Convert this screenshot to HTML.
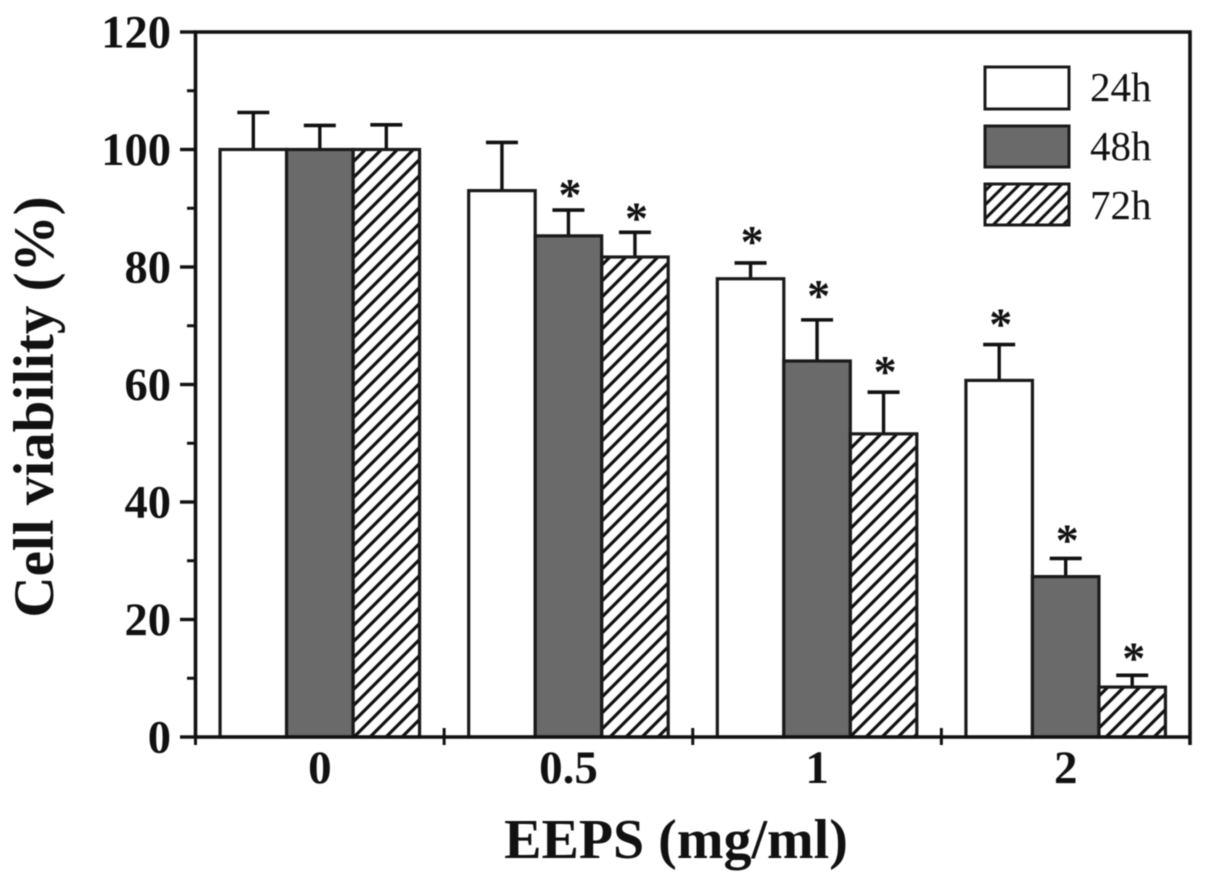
<!DOCTYPE html>
<html lang="en">
<head>
<meta charset="utf-8">
<title>Cell viability chart</title>
<style>
html,body{margin:0;padding:0;background:#fff;width:1205px;height:886px;overflow:hidden}
svg{display:block;filter:blur(0.6px)}
text{font-family:"Liberation Serif",serif;fill:#111}
</style>
</head>
<body>
<svg id="chart" xmlns="http://www.w3.org/2000/svg" width="1205" height="886" viewBox="0 0 1205 886">
<defs>
<pattern id="hatch" patternUnits="userSpaceOnUse" width="16" height="16" patternTransform="translate(3 0)">
<path d="M-3 3L3 -3M0 16L16 0M13 19L19 13" stroke="#111" stroke-width="3.2"/>
</pattern>
<pattern id="hatch-small" patternUnits="userSpaceOnUse" width="14" height="14">
<path d="M-3 3L3 -3M0 14L14 0M11 17L17 11" stroke="#111" stroke-width="3"/>
</pattern>
</defs>
<text transform="translate(53 407) rotate(-90)" text-anchor="middle" font-size="57" font-weight="bold">Cell viability (%)</text>
<text x="676" y="858" text-anchor="middle" font-size="56" font-weight="bold">EEPS (mg/ml)</text>
<g id="marks"></g>
<g id="axes"></g>
<g>
<rect x="985" y="67" width="84" height="42" fill="#fff" stroke="#1a1a1a" stroke-width="3"/>
<text x="1090" y="101" font-size="41">24h</text>
<rect x="985" y="126" width="84" height="41" fill="#6a6a6a" stroke="#1a1a1a" stroke-width="3"/>
<text x="1090" y="160" font-size="41">48h</text>
<rect x="985" y="184" width="84" height="41" fill="url(#hatch-small)" stroke="#1a1a1a" stroke-width="3"/>
<text x="1090" y="219" font-size="41">72h</text>
</g>
</svg>
<script>
const categories = ["0", "0.5", "1", "2"];
const seriesNames = ["24h", "48h", "72h"];
const values24h = [100, 93, 78, 60.7];
const values48h = [100, 85.3, 64, 27.3];
const values72h = [100, 81.7, 51.6, 8.5];
const errorTop24h = [106.3, 101.2, 80.7, 66.8];
const errorTop48h = [104.1, 89.7, 71, 30.4];
const errorTop72h = [104.2, 85.9, 58.7, 10.5];
const starGap24h = [null, null, 1.0, 0.85];
const starGap48h = [null, 0, 1.5, 0.5];
const starGap72h = [null, -0.2, 0.85, 0.35];
const yMajorTicks = [0, 20, 40, 60, 80, 100, 120];
const yMinorTicks = [10, 30, 50, 70, 90, 110];

const seriesValues = [values24h, values48h, values72h];
const seriesErrors = [errorTop24h, errorTop48h, errorTop72h];
const seriesStars = [starGap24h, starGap48h, starGap72h];
const seriesFills = ["#fff", "#6a6a6a", "url(#hatch)"];

const plotLeft = 195.5, plotRight = 1190, plotTop = 32, plotBottom = 737;
const yMax = 120;
const barWidth = 66.5;
function yScale(v) { return plotBottom - (v / yMax) * (plotBottom - plotTop); }
function bandWidth() { return (plotRight - plotLeft) / categories.length; }
function xCenter(c) { return plotLeft + bandWidth() * (c + 0.5); }
function xBar(c, s) { return xCenter(c) + (s - (seriesNames.length - 1) / 2) * barWidth - barWidth / 2; }

const NS = "http://www.w3.org/2000/svg";
const marks = document.getElementById("marks");
const axes = document.getElementById("axes");
function make(tag, parent, props, content) {
  const el = document.createElementNS(NS, tag);
  for (const k in props) el.setAttribute(k, props[k]);
  if (content !== undefined) el.textContent = content;
  parent.appendChild(el);
  return el;
}
const axisColor = "#111";

seriesNames.forEach(function (name, s) {
  categories.forEach(function (cat, c) {
    const x = xBar(c, s);
    const cx = x + barWidth / 2;
    const top = yScale(seriesValues[s][c]);
    const errY = yScale(seriesErrors[s][c]);
    const stem = make("line", marks, { x1: cx, x2: cx, y1: top, y2: errY, stroke: axisColor, "stroke-width": 3.4 });
    
    
    const cap = make("line", marks, { x1: cx - 16, x2: cx + 16, y1: errY, y2: errY, stroke: axisColor, "stroke-width": 3.6 });
    
    
    const bar = make("rect", marks, { x: x, y: top, width: barWidth, height: plotBottom - top, fill: seriesFills[s], stroke: "#1a1a1a", "stroke-width": 3.2 });
    
    
    if (seriesStars[s][c] !== null) {
      const starY = yScale(seriesErrors[s][c] + seriesStars[s][c]);
      const star = make("text", marks, { x: cx + 1.5, y: starY, "text-anchor": "middle", "font-size": 46, "font-weight": "bold" }, "*");
      
      
    }
  });
});

const frame = make("path", axes, { d: "M" + plotLeft + " " + plotBottom + "V" + plotTop + "H" + plotRight + "V745", fill: "none", stroke: axisColor, "stroke-width": 3.6 });


const xAxis = make("line", axes, { x1: plotLeft, x2: plotRight, y1: plotBottom, y2: plotBottom, stroke: axisColor, "stroke-width": 3.6 });



yMajorTicks.forEach(function (v) {
  const y = yScale(v);
  const tick = make("line", axes, { x1: 180, x2: plotLeft, y1: y, y2: y, stroke: axisColor, "stroke-width": 3.4 });
  
  
  const label = make("text", axes, { x: 171, y: y + 15.5, "text-anchor": "end", "font-size": 46.5, "font-weight": "bold" }, String(v));
  
  
});
yMinorTicks.forEach(function (v) {
  const y = yScale(v);
  const tick = make("line", axes, { x1: 187, x2: plotLeft, y1: y, y2: y, stroke: axisColor, "stroke-width": 3 });
  
  
});
categories.forEach(function (cat, c) {
  const label = make("text", axes, { x: xCenter(c), y: 783, "text-anchor": "middle", "font-size": 47, "font-weight": "bold" }, cat);
  
  
  const tx = plotLeft + bandWidth() * c;
  const tick = make("line", axes, { x1: tx, x2: tx, y1: c === 0 ? plotBottom : 728, y2: 745, stroke: axisColor, "stroke-width": 3 });
  
  
});
</script>
</body>
</html>
